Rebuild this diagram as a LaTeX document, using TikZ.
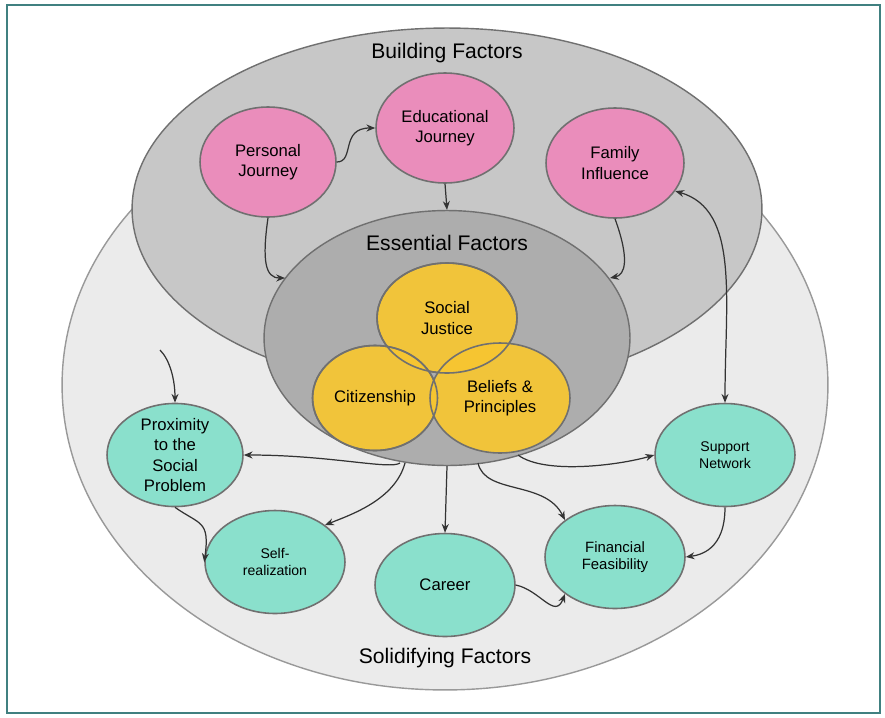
\documentclass[tikz,border=0pt]{standalone}
\usepackage{fontspec}
\setmainfont{Liberation Sans}
\usetikzlibrary{shapes.geometric,arrows.meta}
\definecolor{pk}{HTML}{EA8DBB}
\definecolor{yl}{HTML}{F7C631}
\definecolor{tl}{HTML}{8AE0CC}
\definecolor{bd}{HTML}{707070}
\begin{document}
\begin{tikzpicture}[x=0.02cm,y=-0.02cm,
 circ/.style={ellipse,draw=bd,line width=0.9pt,align=center,inner sep=0pt,font=\fontsize{9.5}{11.5}\selectfont},
 pkc/.style={circ,fill=pk,minimum width=2.76cm,minimum height=2.2cm},
 tlc/.style={circ,fill=tl,minimum width=2.8cm,minimum height=2.06cm},
 ylc/.style={circ,fill=yl,fill opacity=0.92,text opacity=1},
 ttl/.style={font=\fontsize{12}{14}\selectfont},
 arr/.style={-{Stealth[length=5pt,width=4pt]},line width=0.7pt,draw=black!80}]
\useasboundingbox (0,0) rectangle (885,717);
\draw[draw=teal!50!gray,line width=0.8pt,fill=white] (7,5) rectangle (880,713);
\node[ellipse,draw=black!40,fill=black!8,minimum width=15.32cm,minimum height=12.2cm,line width=0.8pt] (sol) at (445,385) {};
\node[ellipse,draw=bd,fill=black!22,minimum width=12.6cm,minimum height=7.24cm,line width=0.8pt] (bld) at (447,209) {};
\node[ellipse,draw=bd,fill=black!32,minimum width=7.32cm,minimum height=5.1cm,line width=0.8pt] (ess) at (447,338) {};
\node[ttl] (tb) at (447,53) {Building Factors};
\node[ttl] (te) at (447,243) {Essential Factors};
\node[ttl] (ts) at (445,658) {Solidifying Factors};
\node[pkc,minimum width=2.72cm] (pj) at (268,162) {Personal\\Journey};
\node[pkc] (ej) at (445,128) {Educational\\Journey};
\node[pkc] (fi) at (615,163) {Family\\Influence};
\node[ylc,minimum width=2.8cm,minimum height=2.2cm] (sj) at (447,318) {Social\\Justice};
\node[ylc,minimum width=2.5cm,minimum height=2.1cm] (ci) at (375,398) {Citizenship};
\node[ylc,minimum width=2.8cm,minimum height=2.2cm] (bp) at (500,398) {Beliefs \&\\Principles};
\draw[bd,line width=0.9pt] (sj.center) ellipse (70 and 55);
\draw[bd,line width=0.9pt] (ci.center) ellipse (62.5 and 52.5);
\node[tlc,minimum width=2.72cm] (px) at (175,455) {Proximity\\to the\\Social\\Problem};
\node[tlc,font=\fontsize{8}{9.5}\selectfont] (sr) at (275,562) {Self-\\realization};
\node[tlc] (ca) at (445,585) {Career};
\node[tlc,font=\fontsize{8.5}{10}\selectfont] (ff) at (615,557) {Financial\\Feasibility};
\node[tlc,font=\fontsize{8}{9.5}\selectfont] (sn) at (725,455) {Support\\Network};
\coordinate (a1) at (285,278);
\coordinate (a2) at (610,278);
\coordinate (b0) at (160,350);
\draw[arr] (pj.east) .. controls (355,162) and (340,128) .. (ej.west);
\draw[arr] (ej.south) -- (ess.north);
\draw[arr] (pj.south) .. controls (262,260) and (265,278) .. (a1);
\draw[arr] (fi.south) .. controls (630,260) and (625,275) .. (a2);
\draw[{Stealth[length=5pt,width=4pt]}-{Stealth[length=5pt,width=4pt]},line width=0.7pt,draw=black!80] (fi.-25) .. controls (740,210) and (725,300) .. (sn.north);
\draw[arr] (b0) .. controls (170,360) and (175,380) .. (px.north);
\draw[arr] (400,463) .. controls (390,470) and (330,455) .. (px.east);
\draw[arr] (405,463) .. controls (395,500) and (350,515) .. (sr.north east);
\draw[arr] (ess.south) -- (ca.north);
\draw[arr] (478,463) .. controls (485,495) and (545,480) .. (ff.north west);
\draw[arr] (518,455) .. controls (545,475) and (620,465) .. (sn.west);
\draw[arr] (px.south) .. controls (200,525) and (210,520) .. (sr.west);
\draw[arr] (ca.east) .. controls (540,590) and (555,620) .. (ff.south west);
\draw[arr] (sn.south) .. controls (725,550) and (700,555) .. (ff.east);
\end{tikzpicture}
\end{document}
